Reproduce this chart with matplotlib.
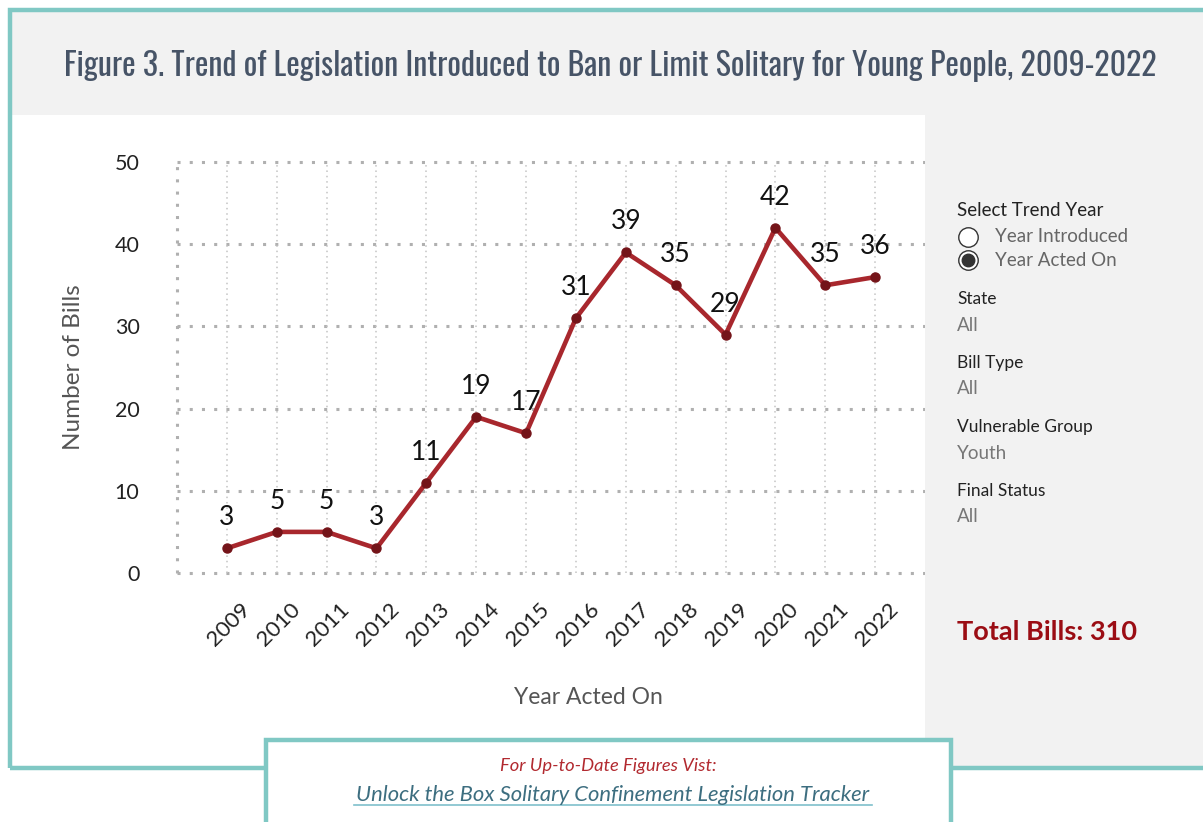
import matplotlib
matplotlib.use("Agg")
import matplotlib.pyplot as plt
from matplotlib import font_manager as fm
from matplotlib.patches import Rectangle
from matplotlib.lines import Line2D
from matplotlib.transforms import ScaledTranslation

years = list(range(2009, 2023))
bills = [3, 5, 5, 3, 11, 19, 17, 31, 39, 35, 29, 42, 35, 36]
y_ticks = [0, 10, 20, 30, 40, 50]

title = "Figure 3. Trend of Legislation Introduced to Ban or Limit Solitary for Young People, 2009-2022"
filters = [("State", "All"), ("Bill Type", "All"), ("Vulnerable Group", "Youth"), ("Final Status", "All")]
total = sum(bills)

W, H = 1203, 822
TEAL = "#80c8c4"
LINE_RED = "#a8272d"
DOT_RED = "#741419"

plt.rcParams["font.family"] = ["Lato", "DejaVu Sans"]


def pick_narrow():
    # prefer a condensed face for the title, like the original's Oswald
    for fam, stretch in [("Oswald", "normal"), ("Roboto Condensed", "normal"),
                         ("Liberation Sans Narrow", "normal"), ("DejaVu Sans", "condensed"),
                         ("Roboto", "condensed")]:
        try:
            path = fm.findfont(fm.FontProperties(family=fam, stretch=stretch),
                               fallback_to_default=False)
        except ValueError:
            continue
        if "ondensed" in path or "Narrow" in path or "Oswald" in path:
            return fam, stretch
    return "Roboto", "normal"


fig = plt.figure(figsize=(W / 100, H / 100), dpi=100)
fig.patch.set_facecolor("white")


def fx(x):
    return x / W


def fy(y):
    return 1 - y / H


def rect(x0, y0, x1, y1, **kw):
    fig.add_artist(Rectangle((fx(x0), fy(y1)), fx(x1 - x0), (y1 - y0) / H,
                             transform=fig.transFigure, **kw))


# page background panels
rect(10, 10, 1210, 115, facecolor="#f2f2f2", edgecolor="none")
rect(925, 115, 1210, 768, facecolor="#f2f2f2", edgecolor="none")
rect(10, 10, 1260, 768, facecolor="none", edgecolor=TEAL, linewidth=3.2)
rect(266, 740, 951, 860, facecolor="white", edgecolor=TEAL, linewidth=3.2, zorder=5)

tfam, tstretch = pick_narrow()
ttl = fig.text(fx(610), fy(66), title, fontsize=24, color="#475467",
               family=[tfam, "DejaVu Sans"], stretch=tstretch,
               ha="center", va="center")
# shrink the title until it spans the same width as the original (~1095 px)
renderer = fig.canvas.get_renderer()
w = ttl.get_window_extent(renderer).width
ttl.set_fontsize(24 * min(1.6, 1095 / w))

# main chart
ax = fig.add_axes([fx(177), fy(573), fx(925 - 177), (573 - 162) / H])
ax.set_xlim(2008, 2023)
ax.set_ylim(0, 50)
for s in ax.spines.values():
    s.set_visible(False)
ax.set_yticks(y_ticks)
ax.set_xticks(years)
ax.tick_params(length=0)
ax.tick_params(axis="y", pad=27, labelsize=15.5, labelcolor="#222222")
ax.tick_params(axis="x", pad=24, labelsize=16, labelcolor="#222222")
ax.set_xticklabels([str(y) for y in years], rotation=45, ha="right",
                   va="center", rotation_mode="anchor")
for lab in ax.get_xticklabels():
    lab.set_transform(lab.get_transform() + ScaledTranslation(0.20, 0, fig.dpi_scale_trans))

for v in y_ticks:
    ax.axhline(v, color="#b0b0b0", linestyle=(0, (1, 3)), linewidth=2.2, zorder=1, clip_on=False)
for yr in years:
    ax.axvline(yr, color="#c4c4c4", linestyle=(0, (1, 2.5)), linewidth=1.1, zorder=1)
ax.axvline(2008, color="#b0b0b0", linestyle=(0, (1, 3)), linewidth=2.2, zorder=1, clip_on=False)

ax.plot(years, bills, color=LINE_RED, linewidth=3.3, zorder=3, clip_on=False)
ax.plot(years, bills, "o", color=DOT_RED, markersize=6.5, zorder=4, clip_on=False)
for yr, b in zip(years, bills):
    ax.annotate(str(b), (yr, b), xytext=(0, 13), textcoords="offset points",
                ha="center", va="bottom", fontsize=19, color="#111111", zorder=5)

ax.set_ylabel("Number of Bills", fontsize=17.5, color="#555555", labelpad=22)
ax.set_xlabel("Year Acted On", fontsize=16.5, color="#555555", labelpad=27)
ax.xaxis.label.set_x((588 - 177) / (925 - 177))

# sidebar controls
fig.text(fx(957), fy(210), "Select Trend Year", fontsize=13.5, color="#222222", va="center")
radio_opts = [("Year Introduced", False, 237), ("Year Acted On", True, 260)]
for lab, sel, ypos in radio_opts:
    fig.add_artist(Line2D([fx(968)], [fy(ypos)], marker="o", markersize=14,
                          markerfacecolor="white", markeredgecolor="#333333",
                          markeredgewidth=1.0, transform=fig.transFigure))
    if sel:
        fig.add_artist(Line2D([fx(968)], [fy(ypos)], marker="o", markersize=9,
                              color="#333333", transform=fig.transFigure))
    fig.text(fx(995), fy(ypos), lab, fontsize=13.5, color="#666666", va="center")

ypos = 299
for name, val in filters:
    fig.text(fx(957), fy(ypos), name, fontsize=12.5, color="#222222", va="center")
    fig.text(fx(957), fy(ypos + 26), val, fontsize=13.5, color="#777777", va="center")
    ypos += 64

fig.text(fx(957), fy(632), f"Total Bills: {total}", fontsize=19.5, fontweight="bold",
         color="#9b0d14", va="center")

# footer box
fig.text(fx(608), fy(766), "For Up-to-Date Figures Vist:", fontsize=13.2, style="italic",
         color="#b22a30", ha="center", va="center", zorder=6)
fig.text(fx(613), fy(801), "Unlock the Box Solitary Confinement Legislation Tracker",
         fontsize=15.8, style="italic", color="#3d6e80", ha="center", va="baseline", zorder=6)
fig.add_artist(Line2D([fx(354), fx(872)], [fy(805), fy(805)], color="#7fc0cc",
                      linewidth=1.2, transform=fig.transFigure, zorder=6))

fig.savefig("out.png", dpi=100, facecolor="white")
